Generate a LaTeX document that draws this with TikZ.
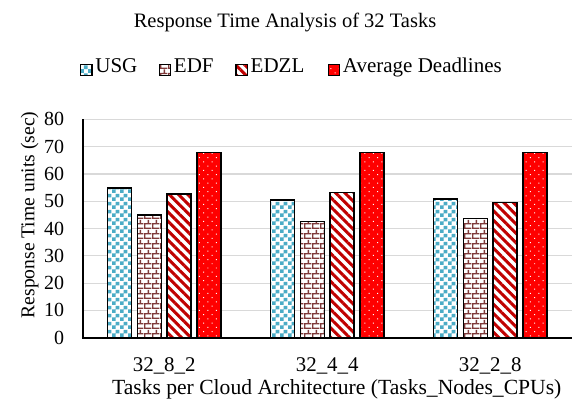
\documentclass[tikz,border=0pt]{standalone}
\usepackage{fontspec}
\setmainfont{Liberation Serif}
\usepackage{xcolor}
\usetikzlibrary{positioning,patterns.meta}

\definecolor{usgblue}{HTML}{4BACC6}
\definecolor{brickbrown}{HTML}{7F3A3A}
\definecolor{stripered}{HTML}{C00000}
\definecolor{avgred}{HTML}{FF0000}
\definecolor{gridgray}{HTML}{D9D9D9}

% Fill patterns of the bars
\pgfdeclarepattern{
  name=checks, type=uncolored,
  bottom left={\pgfpoint{0pt}{0pt}}, top right={\pgfpoint{8pt}{8pt}},
  tile size={\pgfpoint{8pt}{8pt}},
  code={
    \pgfpathrectangle{\pgfpoint{0pt}{0pt}}{\pgfpoint{4pt}{4pt}}
    \pgfpathrectangle{\pgfpoint{4pt}{4pt}}{\pgfpoint{4pt}{4pt}}
    \pgfusepath{fill}
  }
}
\pgfdeclarepattern{
  name=brickwall, type=uncolored,
  bottom left={\pgfpoint{0pt}{0pt}}, top right={\pgfpoint{8pt}{10pt}},
  tile size={\pgfpoint{8pt}{10pt}},
  code={
    \pgfsetlinewidth{1.5pt}
    \pgfpathmoveto{\pgfpoint{0pt}{0.75pt}}\pgfpathlineto{\pgfpoint{8pt}{0.75pt}}
    \pgfpathmoveto{\pgfpoint{0pt}{5.75pt}}\pgfpathlineto{\pgfpoint{8pt}{5.75pt}}
    \pgfpathmoveto{\pgfpoint{0.75pt}{0.75pt}}\pgfpathlineto{\pgfpoint{0.75pt}{5.75pt}}
    \pgfpathmoveto{\pgfpoint{4.75pt}{5.75pt}}\pgfpathlineto{\pgfpoint{4.75pt}{10pt}}
    \pgfpathmoveto{\pgfpoint{4.75pt}{0pt}}\pgfpathlineto{\pgfpoint{4.75pt}{0.75pt}}
    \pgfusepath{stroke}
  }
}

\begin{document}
\begin{tikzpicture}[
    x=1pt, y=1pt,
    txt/.style={inner sep=0pt, font=\fontsize{20.5}{24}\selectfont},
    ticklabel/.style={txt, font=\fontsize{20}{24}\selectfont, anchor=east},
    catlabel/.style={txt, font=\fontsize{20.9}{24}\selectfont, anchor=base},
    legtxt/.style={txt, font=\fontsize{21}{24}\selectfont, text height=0.66em, text depth=0.07em},
    legsq/.style={draw, rectangle, inner sep=0pt, minimum size=11.5pt, line width=1.2pt},
    gridline/.style={draw=gridgray, line width=1.2pt},
    axisline/.style={draw=black, line width=1.6pt},
    bar/.style={draw=black, line width=1.5pt},
    usgbar/.style={bar, preaction={fill=white}, pattern=checks, pattern color=usgblue},
    edfbar/.style={bar, preaction={fill=white}, pattern=brickwall, pattern color=brickbrown},
    edzlbar/.style={bar, preaction={fill=white}, pattern={Lines[angle=-45, distance=6.6pt, line width=3pt]}, pattern color=stripered},
    avgbar/.style={bar, preaction={fill=avgred}, pattern={Dots[angle=45, distance=6pt, radius=0.7pt]}, pattern color=white}
]
\useasboundingbox (0,0) rectangle (578,408);

% Title and legend
\node[txt, anchor=base] (title) at (285,380) {Response Time Analysis of 32 Tasks};

\node[legsq, usgbar, line width=1.2pt] (usgkey) at (86.3,338) {};
\node[legtxt, right=2.5pt of usgkey] (usgtxt) {USG};
\node[legsq, edfbar, line width=1.2pt, right=21pt of usgtxt] (edfkey) {};
\node[legtxt, right=2.5pt of edfkey] (edftxt) {EDF};
\node[legsq, edzlbar, line width=1.2pt, right=21.5pt of edftxt] (edzlkey) {};
\node[legtxt, right=2.5pt of edzlkey] (edzltxt) {EDZL};
\node[legsq, avgbar, line width=1.2pt, right=23pt of edzltxt] (avgkey) {};
\node[legtxt, right=2.5pt of avgkey] (avgtxt) {Average Deadlines};

% Plot area
\begin{scope}[shift={(82.7pt,70.3pt)}, y=2.73pt]
  \foreach \v in {10,20,...,80}
    \draw[gridline] (0,\v) -- (489,\v);
  \foreach \v in {0,10,...,80}
    \node[ticklabel] (tick\v) at (-18.5,\v) {\v};

  % Bars per architecture
  \foreach \cx/\a/\b/\c/\d/\lbl in {81.5/54.9/44.9/52.6/67.8/32\_8\_2,
                                    244.5/50.4/42.5/53.1/67.8/32\_4\_4,
                                    407.5/50.8/43.7/49.6/67.8/32\_2\_8} {
    \draw[usgbar]  (\cx-56.5,0) rectangle (\cx-32.5,\a);
    \draw[edfbar]  (\cx-26.8,0) rectangle (\cx-2.8,\b);
    \draw[edzlbar] (\cx+2.9,0) rectangle (\cx+26.9,\c);
    \draw[avgbar]  (\cx+32.6,0) rectangle (\cx+56.6,\d);
    \node[catlabel] (cat\cx) at (\cx,-12.3) {\lbl};
  }

  \draw[axisline] (0,0) -- (0,80);
  \draw[axisline, line width=2.2pt] (-0.8,0) -- (489,0);
\end{scope}

% Axis titles
\node[txt, font=\fontsize{21.6}{24}\selectfont, anchor=base] (xtitle) at (336.7,14) {Tasks per Cloud Architecture (Tasks\_Nodes\_CPUs)};
\node[txt, font=\fontsize{19.6}{24}\selectfont, anchor=base, rotate=90] (ytitle) at (34.3,193) {Response Time units (sec)};

\end{tikzpicture}
\end{document}
